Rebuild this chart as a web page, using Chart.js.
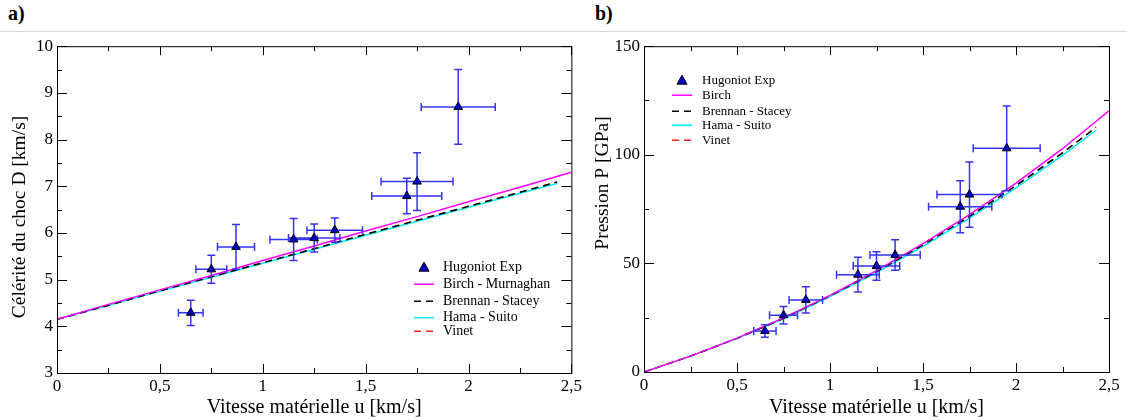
<!DOCTYPE html>
<html>
<head>
<meta charset="utf-8">
<script src="https://cdn.jsdelivr.net/npm/chart.js@4.4.1/dist/chart.umd.min.js"></script>
<style>
  body { margin: 0; background: #fff; width: 1127px; height: 420px; overflow: hidden; position: relative; font-family: "Liberation Serif", "Times New Roman", serif; }
  .lbl { position: absolute; top: 2px; font-weight: bold; font-size: 20px; }
  .sep { position: absolute; left: 0; top: 31px; width: 1127px; height: 1px; background: #d8d8d8; }
  canvas { position: absolute; }
</style>
</head>
<body>
<div class="lbl" style="left:8px">a)</div>
<div class="lbl" style="left:595px">b)</div>
<div class="sep"></div>
<canvas id="chartA" width="585" height="388" style="left:0;top:32px"></canvas>
<canvas id="chartB" width="537" height="388" style="left:590px;top:32px"></canvas>
<script>
// experimental Hugoniot points
const uExp = [0.65, 0.75, 0.87, 1.15, 1.25, 1.35, 1.70, 1.75, 1.95];
const uErr = [0.06, 0.075, 0.09, 0.115, 0.125, 0.135, 0.17, 0.175, 0.18];
const dExp = [4.29, 5.22, 5.70, 5.86, 5.89, 6.06, 6.79, 7.10, 8.70];
const dErr = [0.27, 0.30, 0.48, 0.45, 0.30, 0.26, 0.38, 0.62, 0.80];
const pExp = [18.9, 26.1, 33.2, 44.8, 48.8, 53.9, 76.1, 81.7, 103.0];
const pErr = [2.9, 4.0, 6.0, 8.0, 6.6, 7.0, 12.0, 15.0, 19.5];

// model curves
const uBirch = [0, 0.25, 0.5, 0.75, 1, 1.25, 1.5, 1.75, 2, 2.25, 2.5];
const uModel = [0, 0.25, 0.5, 0.75, 1, 1.25, 1.5, 1.75, 2, 2.25, 2.43];
const dBirch   = [4.15, 4.47, 4.78, 5.09, 5.41, 5.72, 6.04, 6.35, 6.67, 6.98, 7.30];
const dBrennan = [4.15, 4.45, 4.76, 5.06, 5.36, 5.66, 5.97, 6.27, 6.57, 6.87, 7.09];
const dHama    = [4.15, 4.45, 4.75, 5.05, 5.35, 5.65, 5.95, 6.25, 6.55, 6.85, 7.06];
const dVinet   = [4.15, 4.45, 4.76, 5.06, 5.36, 5.66, 5.97, 6.27, 6.57, 6.87, 7.09];
const pBirch   = [0, 7.3, 15.6, 24.9, 35.3, 46.7, 59.1, 72.5, 87.0, 102.8, 120.3];
const pBrennan = [0, 7.3, 15.5, 24.7, 35.0, 46.2, 58.5, 71.6, 85.8, 100.9, 112.6];
const pHama    = [0, 7.3, 15.4, 24.5, 34.7, 45.8, 57.9, 70.8, 84.8, 99.7, 111.3];
const pVinet   = [0, 7.3, 15.5, 24.7, 35.0, 46.2, 58.5, 71.6, 85.8, 100.9, 112.6];

const SERIF = '"Liberation Serif", "Times New Roman", serif';
const toXY = (xs, ys) => xs.map((x, i) => ({ x: x, y: ys[i] }));
const comma = v => String(v).replace('.', ',');
const isMult = (v, s) => Math.abs(v / s - Math.round(v / s)) < 1e-6;

// frame + inward tick marks on all four sides, plus the rotated y title
const framePlugin = {
  id: 'frame',
  afterDraw(chart, args, opts) {
    const { ctx, chartArea: a, scales } = chart;
    ctx.save();
    ctx.strokeStyle = '#000';
    ctx.lineWidth = 1;
    ctx.strokeRect(a.left + 0.5, a.top + 0.5, a.right - a.left, a.bottom - a.top);
    ctx.beginPath();
    scales.x.ticks.forEach(t => {
      const px = Math.round(scales.x.getPixelForValue(t.value)) + 0.5;
      const len = t.label !== '' ? 9 : 5;
      ctx.moveTo(px, a.bottom); ctx.lineTo(px, a.bottom - len);
      ctx.moveTo(px, a.top); ctx.lineTo(px, a.top + len);
    });
    scales.y.ticks.forEach(t => {
      const py = Math.round(scales.y.getPixelForValue(t.value)) + 0.5;
      const len = t.label !== '' ? 10 : 5;
      ctx.moveTo(a.left, py); ctx.lineTo(a.left + len, py);
      ctx.moveTo(a.right, py); ctx.lineTo(a.right - len, py);
    });
    ctx.stroke();

    ctx.translate(opts.cx, opts.cy);
    ctx.rotate(-Math.PI / 2);
    ctx.font = opts.size + 'px ' + SERIF;
    ctx.fillStyle = '#000';
    ctx.textAlign = 'center';
    ctx.textBaseline = 'middle';
    ctx.fillText(opts.text, 0, 0);
    ctx.restore();
  }
};

// error bars drawn just before the triangles
const errorPlugin = {
  id: 'errbars',
  beforeDatasetDraw(chart, args, opts) {
    if (args.index !== 0) return;
    const { ctx, scales: { x, y } } = chart;
    const ys = opts.ys, yErr = opts.yErr;
    ctx.save();
    ctx.strokeStyle = '#3535f0';
    ctx.lineWidth = 1.5;
    ctx.beginPath();
    uExp.forEach((u, i) => {
      const cx = x.getPixelForValue(u), cy = y.getPixelForValue(ys[i]);
      const x0 = x.getPixelForValue(u - uErr[i]), x1 = x.getPixelForValue(u + uErr[i]);
      const y0 = y.getPixelForValue(ys[i] - yErr[i]), y1 = y.getPixelForValue(ys[i] + yErr[i]);
      ctx.moveTo(x0, cy); ctx.lineTo(x1, cy);
      ctx.moveTo(x0, cy - 4); ctx.lineTo(x0, cy + 4);
      ctx.moveTo(x1, cy - 4); ctx.lineTo(x1, cy + 4);
      ctx.moveTo(cx, y0); ctx.lineTo(cx, y1);
      ctx.moveTo(cx - 4, y0); ctx.lineTo(cx + 4, y0);
      ctx.moveTo(cx - 4, y1); ctx.lineTo(cx + 4, y1);
    });
    ctx.stroke();
    ctx.restore();
  }
};

// legend inside the plot area
const legendPlugin = {
  id: 'boxLegend',
  afterDraw(chart, args, opts) {
    const { ctx, chartArea: a } = chart;
    ctx.save();
    ctx.font = opts.size + 'px ' + SERIF;
    ctx.textBaseline = 'middle';
    ctx.fillStyle = '#000';
    chart.data.datasets.forEach((ds, i) => {
      const ry = a.top + opts.rows[i];
      const lx = a.left + opts.x;
      if (i === 0) {
        const cx = lx + 10;
        ctx.beginPath();
        ctx.moveTo(cx, ry - 5); ctx.lineTo(cx + 5, ry + 4); ctx.lineTo(cx - 5, ry + 4); ctx.closePath();
        ctx.fillStyle = ds.backgroundColor; ctx.fill();
        ctx.strokeStyle = '#000'; ctx.lineWidth = 1; ctx.stroke();
      } else {
        ctx.beginPath();
        ctx.setLineDash(ds.borderDash || []);
        ctx.strokeStyle = ds.borderColor; ctx.lineWidth = 1.5;
        ctx.moveTo(lx, ry); ctx.lineTo(lx + 20, ry); ctx.stroke();
        ctx.setLineDash([]);
      }
      ctx.fillStyle = '#000';
      ctx.fillText(ds.label, lx + opts.textGap, ry);
    });
    ctx.restore();
  }
};

function lineSet(label, xs, ys, color, dash) {
  return {
    label: label, data: toXY(xs, ys), showLine: true, borderColor: color,
    borderWidth: 1.5, borderDash: dash, pointRadius: 0, fill: false, tension: 0
  };
}

function makeChart(id, cfg) {
  return new Chart(document.getElementById(id).getContext('2d'), {
    type: 'scatter',
    data: {
      datasets: [
        { label: 'Hugoniot Exp', data: toXY(uExp, cfg.ys), pointStyle: 'triangle', pointRadius: 5,
          backgroundColor: '#0000c8', borderColor: '#000', borderWidth: 1 },
        lineSet(cfg.birchLabel, uBirch, cfg.birch, '#ff00ff', []),
        lineSet('Brennan - Stacey', uModel, cfg.brennan, '#000000', [7, 5]),
        lineSet('Hama - Suito', uModel, cfg.hama, '#00f0f0', []),
        lineSet('Vinet', uModel, cfg.vinet, '#ff2020', [7, 5])
      ]
    },
    options: {
      responsive: false,
      animation: false,
      layout: { padding: cfg.pad },
      plugins: {
        legend: { display: false },
        tooltip: { enabled: false },
        errbars: { ys: cfg.ys, yErr: cfg.yErr },
        boxLegend: cfg.legend,
        frame: cfg.ytitle
      },
      scales: {
        x: {
          type: 'linear', min: 0, max: 2.5,
          afterFit: s => { s.height = cfg.xh; },
          grid: { display: false, drawTicks: false }, border: { display: false },
          ticks: { stepSize: 0.25, autoSkip: false, maxRotation: 0, padding: 3, color: '#000',
            font: { family: SERIF, size: 17 },
            callback: v => isMult(v, 0.5) ? comma(v) : '' },
          title: { display: true, text: 'Vitesse matérielle u [km/s]', color: '#000',
            font: { family: SERIF, size: 20 }, padding: { top: 0, bottom: 0 } }
        },
        y: {
          type: 'linear', min: cfg.ymin, max: cfg.ymax,
          afterFit: s => { s.width = cfg.yw; },
          grid: { display: false, drawTicks: false }, border: { display: false },
          ticks: { stepSize: cfg.ystep, autoSkip: false, padding: 4, color: '#000',
            font: { family: SERIF, size: 17 },
            callback: v => isMult(v, cfg.ymajor) ? String(v) : '' }
        }
      }
    },
    plugins: [errorPlugin, framePlugin, legendPlugin]
  });
}

makeChart('chartA', {
  ys: dExp, yErr: dErr, birch: dBirch, brennan: dBrennan, hama: dHama, vinet: dVinet,
  birchLabel: 'Birch - Murnaghan',
  ymin: 3, ymax: 10, ystep: 0.5, ymajor: 1, yw: 57, xh: 47,
  ytitle: { text: 'Célérité du choc D [km/s]', size: 19.5, cx: 20, cy: 185 },
  pad: { top: 13, right: 10, left: 0, bottom: 0 },
  legend: { x: 357, textGap: 29, size: 14, rows: [221, 238, 255, 271.5, 285] }
});

makeChart('chartB', {
  ys: pExp, yErr: pErr, birch: pBirch, brennan: pBrennan, hama: pHama, vinet: pVinet,
  birchLabel: 'Birch',
  ymin: 0, ymax: 150, ystep: 25, ymajor: 50, yw: 54, xh: 48,
  ytitle: { text: 'Pression P [GPa]', size: 19.5, cx: 13, cy: 151 },
  pad: { top: 12, right: 18, left: 0, bottom: 0 },
  legend: { x: 28, textGap: 30, size: 13, rows: [34, 49, 65, 79, 94] }
});
</script>
</body>
</html>
